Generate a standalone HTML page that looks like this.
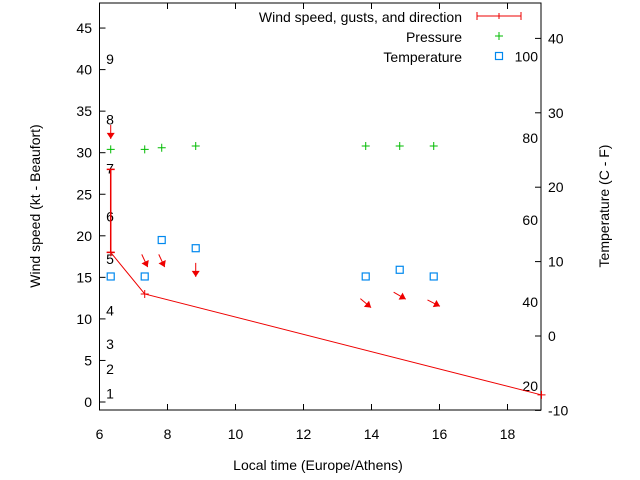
<!DOCTYPE html>
<html><head><meta charset="utf-8"><style>
body{margin:0;background:#fff}
svg{display:block;font-family:"Liberation Sans",sans-serif;font-size:14px}
</style></head><body>
<svg id="c" width="640" height="480" viewBox="0 0 640 480"></svg>
<script>
const windX=[6.33,7.33,19.0];
const windY=[18,13,0.85];
const gustX=[6.33];
const gustLo=[18];
const gustHi=[28];
const presX=[6.33,7.33,7.83,8.83,13.83,14.83,15.83];
const presY=[30.4,30.4,30.6,30.8,30.8,30.8,30.8];
const tempX=[6.33,7.33,7.83,8.83,13.83,14.83,15.83];
const tempY=[8,8,12.9,11.8,8,8.9,8];
const dirX=[6.33,7.33,7.83,8.83,13.83,14.83,15.83];
const dirY=[32.5,17,17,15.9,11.9,12.8,11.9];
const dirAng=[90,65,65,90,40,30,27];
const xTicks=[6,8,10,12,14,16,18];
const yTicks=[0,5,10,15,20,25,30,35,40,45];
const y2Ticks=[-10,0,10,20,30,40];
const bftLabels=["1","2","3","4","5","6","7","8","9"];
const bftY=[1,4,7,11,17.2,22.3,28.1,34,41.3];
const fLabels=["20","40","60","80","100"];
const fY=[-6.7,4.6,15.6,26.6,37.6];

const L=99.5,R=541,T=3,B=410;
const sx=v=>L+(v-6)*34;
const sy=v=>402-v*8.31;
const sy2=v=>336-v*7.44;
const svg=document.getElementById('c');
const NS='http://www.w3.org/2000/svg';
function mk(t,a,p){const e=document.createElementNS(NS,t);for(const k in a)e.setAttribute(k,a[k]);(p||svg).appendChild(e);return e;}
function txt(x,y,s,anc){const e=mk('text',{x:x,y:y,'text-anchor':anc||'start',fill:'#000'});e.textContent=s;return e;}

const frame=mk('rect',{x:L,y:T,width:R-L,height:B-T,fill:'none',stroke:'#000','stroke-width':1});


xTicks.forEach(v=>{
  mk('line',{x1:sx(v),y1:B,x2:sx(v),y2:B-6,stroke:'#000'});
  mk('line',{x1:sx(v),y1:T,x2:sx(v),y2:T+6,stroke:'#000'});
  const t=txt(sx(v),439,String(v),'middle');
  
  
});
yTicks.forEach(v=>{
  mk('line',{x1:L,y1:sy(v),x2:L+6,y2:sy(v),stroke:'#000'});
  const t=txt(92,sy(v)+5,String(v),'end');
  
  
});
y2Ticks.forEach(v=>{
  mk('line',{x1:R,y1:sy2(v),x2:R-6,y2:sy2(v),stroke:'#000'});
  const t=txt(548,sy2(v)+5,String(v),'start');
  
  
});
bftLabels.forEach((s,i)=>{
  const t=txt(110,sy(bftY[i])+5,s,'middle');
  
  
});
fLabels.forEach((s,i)=>{
  const t=txt(538,sy2(fY[i])+5,s,'end');
  
  
});
let t=txt(318,470,'Local time (Europe/Athens)','middle');

t=txt(0,0,'Wind speed (kt - Beaufort)','middle');t.setAttribute('transform','translate(40,206) rotate(-90)');

t=txt(0,0,'Temperature (C - F)','middle');t.setAttribute('transform','translate(609,206) rotate(-90)');


const wl=mk('polyline',{points:windX.map((x,i)=>sx(x)+','+sy(windY[i])).join(' '),fill:'none',stroke:'#e00','stroke-width':1});

windX.forEach((x,i)=>{const p=mk('path',{d:`M${sx(x)-4},${sy(windY[i])}h8M${sx(x)},${sy(windY[i])-4}v8`,stroke:'#e00'});
});
gustX.forEach((x,i)=>{const p=mk('path',{d:`M${sx(x)},${sy(gustLo[i])}V${sy(gustHi[i])}M${sx(x)-4},${sy(gustLo[i])}h8M${sx(x)-4},${sy(gustHi[i])}h8`,stroke:'#e00','stroke-width':1.5});
});
dirX.forEach((x,i)=>{
  const a=dirAng[i]*Math.PI/180,cx=sx(x),cy=sy(dirY[i]),h=7;
  const x1=cx-h*Math.cos(a),y1=cy-h*Math.sin(a),x2=cx+h*Math.cos(a),y2=cy+h*Math.sin(a);
  const bx=x2-6*Math.cos(a),by=y2-6*Math.sin(a),px=-Math.sin(a)*4,py=Math.cos(a)*4;
  const g=mk('g',{});
  
  mk('line',{x1:x1,y1:y1,x2:x2,y2:y2,stroke:'#e00'},g);
  mk('polygon',{points:`${x2},${y2} ${bx+px},${by+py} ${bx-px},${by-py}`,fill:'#e00'},g);
});
presX.forEach((x,i)=>{const p=mk('path',{d:`M${sx(x)-4},${sy(presY[i])}h8M${sx(x)},${sy(presY[i])-4}v8`,stroke:'#0b0'});
});
tempX.forEach((x,i)=>{const p=mk('rect',{x:sx(x)-3.5,y:sy2(tempY[i])-3.5,width:7,height:7,fill:'none',stroke:'#08e','stroke-width':1.2});
});

const lg=mk('g',{});
let e=txt(462,22,'Wind speed, gusts, and direction','end');lg.appendChild(e);
mk('path',{d:'M477,16h44M477,12v8M521,12v8M499,13v6',stroke:'#e00'},lg);
e=txt(462,42,'Pressure','end');lg.appendChild(e);
mk('path',{d:'M495,36h8M499,32v8',stroke:'#0b0'},lg);
e=txt(462,62,'Temperature','end');lg.appendChild(e);
mk('rect',{x:495.5,y:52.5,width:7,height:7,fill:'none',stroke:'#08e','stroke-width':1.2},lg);
</script>
</body></html>
